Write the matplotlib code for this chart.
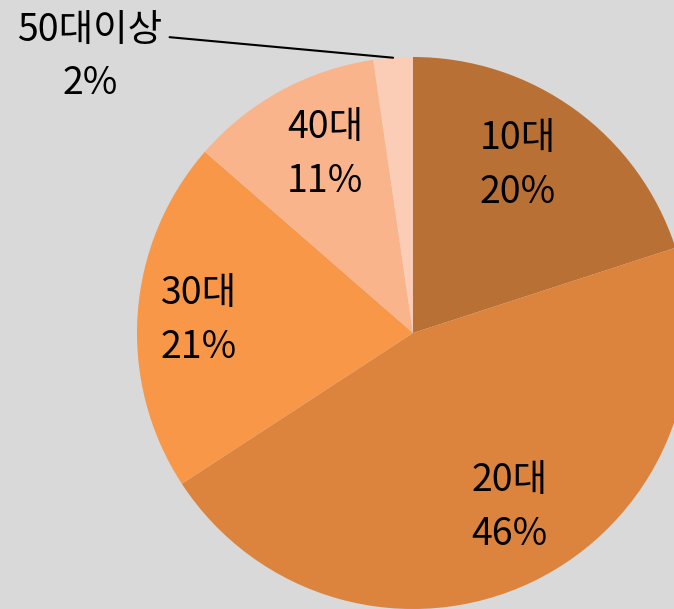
import numpy as np
import matplotlib as mpl
mpl.use('Agg')
import matplotlib.pyplot as plt

plt.rcParams['font.family'] = ['Noto Sans CJK KR', 'DejaVu Sans']
plt.rcParams['font.weight'] = 'light'

# age groups and their share (%)
groups = ['10대', '20대', '30대', '40대', '50대이상']
shares = [20.0, 45.8, 20.6, 11.3, 2.3]
shown = ['20%', '46%', '21%', '11%', '2%']
colors = ['#b97034', '#dc843d', '#f79747', '#f9b48b', '#fccdb6']

fig = plt.figure(figsize=(6.74, 6.09), dpi=100)
fig.patch.set_facecolor('#d9d9d9')

# pie centre at (413, 333) px, radius 276 px
ax = fig.add_axes([137 / 674, 0.0, 552 / 674, 552 / 609])
ax.set_facecolor('#d9d9d9')

wedges, _ = ax.pie(shares, colors=colors, startangle=90, counterclock=False,
                   radius=1.0, wedgeprops=dict(linewidth=0))
ax.set_xlim(-1, 1)
ax.set_ylim(-1, 1)
ax.set_aspect('equal')
ax.axis('off')

# label distance (fraction of radius) and angle nudge (deg) for each wedge
dists = [0.716, 0.722, 0.777, 0.72]
nudges = [4.0, 3.5, 0.5, -2.4]
for w, g, s, d, n in zip(wedges[:4], groups[:4], shown[:4], dists, nudges):
    mid = np.deg2rad((w.theta1 + w.theta2) / 2 + n)
    ax.text(d * np.cos(mid), d * np.sin(mid), g + '\n' + s, ha='center', va='center',
            fontsize=27, linespacing=1.5, fontweight='light')

# small slice: outside label with leader line
w = wedges[4]
mid = np.deg2rad((w.theta1 + w.theta2) / 2)
ex, ey = np.cos(mid), np.sin(mid)
ax.annotate(groups[4] + '\n' + shown[4], xy=(ex, ey), xytext=(-1.17, 1.0),
            ha='center', va='center', fontsize=27, linespacing=1.5,
            fontweight='light', annotation_clip=False,
            arrowprops=dict(arrowstyle='-', color='black', lw=1.5,
                            relpos=(1.0, 0.72), shrinkA=3, shrinkB=0))

fig.savefig('out.png', dpi=100, facecolor=fig.get_facecolor())
